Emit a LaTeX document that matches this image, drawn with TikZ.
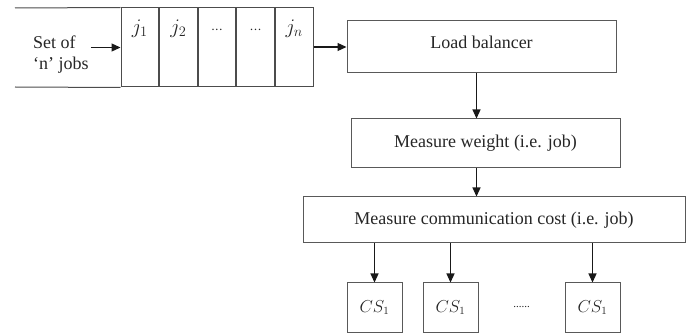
\documentclass[tikz,border=0pt]{standalone}
\usepackage{fontspec}
\setmainfont{Liberation Serif}
\usetikzlibrary{arrows.meta,positioning,calc}
\tikzset{
  every node/.append style={font=\rmfamily\fontsize{18}{21}\selectfont, text=black!85},
}
\tikzset{
  box/.style={draw=black!65, line width=1pt, inner sep=0pt},
  cell/.style={draw=black!70, line width=1pt, minimum width=37.6pt, minimum height=79pt, inner sep=0pt},
  jlab/.style={anchor=base, inner sep=0pt, yshift=-26pt, font=\fontsize{21}{24}\selectfont},
  server/.style={box, minimum width=55pt, minimum height=49pt, font=\fontsize{16}{19}\selectfont},
  arrow/.style={-{Triangle[length=9pt,width=8pt]}, line width=1.2pt, draw=black!90}
}

\begin{document}
\begin{tikzpicture}[x=1pt,y=-1pt]
\useasboundingbox (0,0) rectangle (689,334);

% Queue of jobs
\node[cell, label={[jlab]north:$j_1$}] (c1) at (139.8,47.5) {};
\node[cell, right=0pt of c1, label={[jlab]north:$j_2$}] (c2) {};
\node[cell, right=0pt of c2, label={[jlab]north:$\scriptstyle\cdots$}] (c3) {};
\node[cell, right=0pt of c3, label={[jlab]north:$\scriptstyle\cdots$}] (c4) {};
\node[cell, right=0pt of c4, label={[jlab]north:$j_n$}] (c5) {};
\coordinate (qtop) at (15,8);
\coordinate (qbot) at (15,87);
\draw[black!70, line width=1pt] (qtop) -- (c1.north west) (qbot) -- (c1.south west);
\node[align=left, anchor=west, inner sep=2pt] (jobs) at (31,55) {Set of\\‘n’ jobs};
\draw[arrow] (jobs.east |- c1.west) -- (c1.west);

% Processing steps
\node[box, minimum width=269pt, minimum height=52pt, text depth=10pt] (lb) at (481.5,47) {Load balancer};
\node[box, minimum width=269pt, minimum height=49pt] (mw) at (485.5,143.5) {Measure weight (i.e. job)};
\node[box, minimum width=382pt, minimum height=46pt] (cc) at (494,220) {Measure communication cost (i.e. job)};
\draw[arrow] (c5.east |- lb.west) -- (lb.west);
\draw[arrow] ([xshift=-5pt]lb.south) -- ([xshift=-5pt]lb.south |- mw.north);
\draw[arrow] ([xshift=-9pt]mw.south) -- ([xshift=-9pt]mw.south |- cc.north);

% Servers
\node[server] (cs1) at (374.5,307.5) {$CS_1$};
\node[server, right=20pt of cs1] (cs2) {$CS_1$};
\node[server, right=86pt of cs2] (cs3) {$CS_1$};
\node[font=\fontsize{11}{13}\selectfont] (dots) at ($(cs2.east)!0.5!(cs3.west)$) {......};
\foreach \s in {cs1,cs2,cs3}
  \draw[arrow] (\s.north |- cc.south) -- (\s.north);
\end{tikzpicture}
\end{document}
